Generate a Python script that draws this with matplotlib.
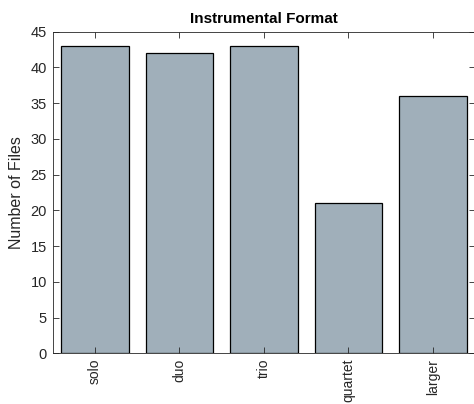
import matplotlib
matplotlib.use("Agg")
import matplotlib.pyplot as plt

plt.rcParams['font.family'] = ['Liberation Sans', 'DejaVu Sans']

formats = ["solo", "duo", "trio", "quartet", "larger"]
counts = [43, 42, 43, 21, 36]
yticks = [0, 5, 10, 15, 20, 25, 30, 35, 40, 45]

fig = plt.figure(figsize=(4.74, 4.04), dpi=100)
ax = fig.add_axes([52.5 / 474, 1 - 353.3 / 404, 422.75 / 474, 321.6 / 404])

pos = list(range(1, len(formats) + 1))
ax.bar(pos, counts, width=0.8, color="#a0afba", edgecolor="black", linewidth=0.9)

ax.set_xlim(0.5, 5.5)
ax.set_ylim(0, 45)
ax.set_xticks(pos)
ax.set_xticklabels(formats, rotation=90, fontsize=10, color="#262626")
ax.set_yticks(yticks)
ax.set_yticklabels([str(v) for v in yticks], fontsize=10.5, color="#262626")

ax.tick_params(direction="in", length=4, width=0.6, color="#262626",
               top=True, right=True, pad=4)
for s in ax.spines.values():
    s.set_linewidth(0.6)
    s.set_color("#262626")

ax.set_ylabel("Number of Files", fontsize=11.5, color="#262626", labelpad=5)
ax.set_title("Instrumental Format", fontsize=11, fontweight="bold", pad=6)

fig.savefig("out.png", dpi=100)
